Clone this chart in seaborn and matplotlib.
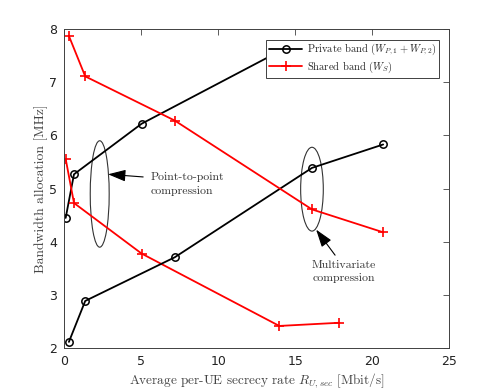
import numpy as np
import pandas as pd
import matplotlib
matplotlib.use("Agg")
import matplotlib.pyplot as plt
from matplotlib.patches import Ellipse
import seaborn as sns

# Point-to-point compression
rate_p2p = [0.09, 0.63, 5.02, 13.96, 17.86]
private_p2p = [4.45, 5.27, 6.22, 7.58, 7.52]
shared_p2p = [5.56, 4.73, 3.78, 2.42, 2.48]

# Multivariate compression
rate_mv = [0.30, 1.36, 7.17, 16.08, 20.70]
private_mv = [2.12, 2.89, 3.71, 5.39, 5.83]
shared_mv = [7.87, 7.11, 6.28, 4.61, 4.18]

x_ticks = [0, 5, 10, 15, 20, 25]
y_ticks = [2, 3, 4, 5, 6, 7, 8]

sns.set_theme(style="white")
plt.rcParams["mathtext.fontset"] = "cm"
plt.rcParams["font.family"] = ["DejaVu Sans"]

fig = plt.figure(figsize=(4.96, 3.92), dpi=100)
ax = fig.add_axes([0.1296, 0.1115, 0.7764, 0.8145])

gray = "#404040"
lw = 1.3
circ = dict(marker="o", markersize=5.3, markerfacecolor="none", markeredgecolor="black",
            markeredgewidth=1.1)
plus = dict(marker="+", markersize=7, markeredgecolor="red", markeredgewidth=1.2)

sns.lineplot(x=rate_p2p, y=private_p2p, ax=ax, color="black", lw=lw, sort=False,
             label=r"Private band $(W_{P,1}+W_{P,2})$", **circ)
sns.lineplot(x=rate_p2p, y=shared_p2p, ax=ax, color="red", lw=lw, sort=False,
             label=r"Shared band $(W_S)$", **plus)
sns.lineplot(x=rate_mv, y=private_mv, ax=ax, color="black", lw=lw, sort=False,
             legend=False, **circ)
sns.lineplot(x=rate_mv, y=shared_mv, ax=ax, color="red", lw=lw, sort=False,
             legend=False, **plus)

# ellipses marking the two schemes
ax.add_patch(Ellipse((2.3, 4.90), 1.23, 2.0, fill=False, edgecolor="#333333", lw=0.8))
ax.add_patch(Ellipse((16.08, 4.99), 1.47, 1.575, fill=False, edgecolor="#333333", lw=0.8))

arrow = dict(arrowstyle="-|>,head_length=0.9,head_width=0.3", color="black", lw=0.8,
             shrinkA=0, shrinkB=0)
ax.annotate("", xy=(2.84, 5.27), xytext=(5.12, 5.22), arrowprops=arrow)
ax.text(5.6, 5.09, "Point-to-point\ncompression", fontfamily="cmr10", fontsize=8.5,
        color="#333333", ha="left", va="center", linespacing=1.45)
ax.annotate("", xy=(16.35, 4.23), xytext=(17.58, 3.75), arrowprops=arrow)
ax.text(18.15, 3.44, "Multivariate\ncompression", fontfamily="cmr10", fontsize=8.5,
        color="#333333", ha="center", va="center", linespacing=1.45)

ax.set_xlim(0, 25)
ax.set_ylim(2, 8)
ax.set_xticks(x_ticks)
ax.set_yticks(y_ticks)
ax.tick_params(direction="in", length=4, width=0.6, colors=gray, labelsize=9,
               top=True, right=True, labelcolor="#222222", pad=5)
for s in ax.spines.values():
    s.set_color(gray)
    s.set_linewidth(0.7)

ax.set_xlabel(r"Average per-UE secrecy rate $R_{U,sec}$ [Mbit/s]", fontfamily="cmr10",
              fontsize=9.5, color="#444444", labelpad=2)
ax.set_ylabel("Bandwidth allocation [MHz]", fontfamily="cmr10", fontsize=9.8,
              color="#444444", labelpad=1)

leg = ax.legend(loc="upper right", prop={"family": "cmr10", "size": 7.6}, frameon=True,
                fancybox=False, edgecolor=gray, framealpha=1, borderaxespad=1.0,
                handlelength=3.2, borderpad=0.25, labelspacing=0.22, handletextpad=0.4)
leg.get_frame().set_linewidth(0.7)
leg.set_zorder(5)

fig.savefig("out.png", dpi=100)
